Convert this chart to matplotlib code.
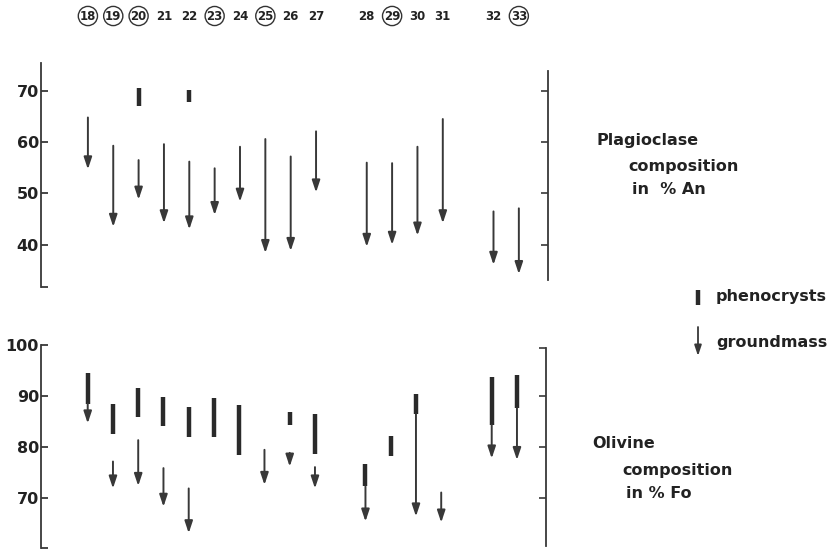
import matplotlib
matplotlib.use("Agg")
import matplotlib.pyplot as plt

# sample numbers, in three groups separated by an empty slot
groups = [[18, 19, 20, 21, 22, 23, 24, 25, 26, 27], [28, 29, 30, 31], [32, 33]]
circled = [18, 19, 20, 23, 25, 29, 33]

# plagioclase (% An)
plag_ph_samples = [20, 22]
plag_ph_top = [70.5, 70.1]
plag_ph_bot = [67.0, 67.8]
plag_gm_samples = [18, 19, 20, 21, 22, 23, 24, 25, 26, 27, 28, 29, 30, 31, 32, 33]
plag_gm_top = [64.8, 59.3, 56.5, 59.6, 56.2, 54.9, 59.1, 60.6, 57.2, 62.1, 56.0, 55.9, 59.1, 64.5, 46.5, 47.1]
plag_gm_bot = [54.7, 43.5, 48.8, 44.2, 43.0, 45.8, 48.4, 38.4, 38.8, 50.2, 39.6, 40.0, 41.8, 44.2, 36.1, 34.3]

# olivine (% Fo)
oliv_ph_samples = [18, 19, 20, 21, 22, 23, 24, 26, 27, 28, 29, 30, 32, 33]
oliv_ph_top = [94.6, 88.5, 91.5, 89.8, 87.9, 89.5, 88.2, 86.9, 86.4, 76.6, 82.1, 90.3, 93.7, 94.2]
oliv_ph_bot = [88.5, 82.6, 85.9, 84.0, 81.9, 82.0, 78.4, 84.3, 78.5, 72.2, 78.1, 86.4, 84.3, 87.6]
oliv_gm_samples = [18, 19, 20, 21, 22, 25, 26, 27, 28, 30, 31, 32, 33]
oliv_gm_top = [88.5, 77.1, 81.3, 75.8, 71.8, 79.4, 78.8, 76.0, 72.2, 86.4, 71.0, 84.3, 87.6]
oliv_gm_bot = [84.6, 71.8, 72.3, 68.2, 63.0, 72.5, 76.1, 71.8, 65.3, 66.3, 65.1, 77.7, 77.4]

ink = "#383838"
plt.rcParams["font.family"] = "DejaVu Sans"
plt.rcParams["font.weight"] = "bold"
head = "-|>,head_length=0.45,head_width=0.15"

# x slot of every sample
xpos = {}
slot = 0
for g in groups:
    for s in g:
        xpos[s] = slot
        slot += 1
    slot += 1

fig = plt.figure(figsize=(8.27, 5.6), dpi=100)
W, H = 827.0, 560.0


def px_axes(left, top, right, bottom):
    return fig.add_axes([left / W, 1 - bottom / H, (right - left) / W, (bottom - top) / H])


def draw(ax, gm_s, gm_t, gm_b, ph_s, ph_t, ph_b):
    for s, t, b in zip(gm_s, gm_t, gm_b):
        ax.annotate("", xy=(xpos[s], b), xytext=(xpos[s], t),
                    arrowprops=dict(arrowstyle=head, color=ink, lw=1.4,
                                    mutation_scale=16, shrinkA=0, shrinkB=0))
    ax.vlines([xpos[s] for s in ph_s], ph_b, ph_t, color="#2a2a2a", lw=3.2,
              capstyle="butt")


def style(ax, ylim, lbounds, rbounds, ticks, extra, rticks):
    ax.set_xlim(-1.85, 18.15)
    ax.set_ylim(*ylim)
    for sp in ["top", "bottom", "right"]:
        ax.spines[sp].set_visible(False)
    ax.spines["left"].set_bounds(*lbounds)
    ax.spines["left"].set_color(ink)
    ax.spines["left"].set_linewidth(1.3)
    ax.set_xticks([])
    ax.set_yticks(ticks + [extra])
    ax.set_yticklabels([str(t) for t in ticks] + [""])
    ax.tick_params(axis="y", direction="in", length=5, width=1.3, color=ink,
                   labelsize=11.5, pad=1.5, labelcolor="#222222")
    ax.patch.set_alpha(0)
    rx = ax.twinx()
    rx.set_ylim(*ylim)
    for sp in ["top", "bottom", "left"]:
        rx.spines[sp].set_visible(False)
    rx.spines["right"].set_bounds(*rbounds)
    rx.spines["right"].set_color(ink)
    rx.spines["right"].set_linewidth(1.3)
    rx.set_yticks(rticks)
    rx.set_yticklabels([])
    rx.tick_params(axis="y", direction="in", length=5, width=1.2, color=ink)
    rx.set_xticks([])


# plagioclase panel
ax1 = px_axes(41, 60, 548, 292)
draw(ax1, plag_gm_samples, plag_gm_top, plag_gm_bot, plag_ph_samples, plag_ph_top, plag_ph_bot)
style(ax1, (30.8, 76.0), (31.7, 75.5), (33.2, 73.9), [40, 50, 60, 70], 31.7, [40, 50, 60, 70])

# olivine panel
ax2 = px_axes(41, 340, 546, 552)
draw(ax2, oliv_gm_samples, oliv_gm_top, oliv_gm_bot, oliv_ph_samples, oliv_ph_top, oliv_ph_bot)
style(ax2, (59.3, 101.0), (60, 100), (60.4, 99.4), [70, 80, 90, 100], 60, [70, 80, 90, 99.4])

# sample numbers across the top
for s in xpos:
    x_fig = ax1.transData.transform((xpos[s], 0))[0] / W
    kw = {}
    if s in circled:
        kw["bbox"] = dict(boxstyle="circle,pad=0.12", fc="none", ec="#333333", lw=1.0)
    fig.text(x_fig, 1 - 16 / H, str(s), ha="center", va="center", fontsize=8.5,
             color="#222222", **kw)

# panel titles
txt = dict(fontsize=11.5, color="#222222", va="center", ha="left")
fig.text(597 / W, 1 - 140 / H, "Plagioclase", **txt)
fig.text(628 / W, 1 - 166 / H, "composition", **txt)
fig.text(632 / W, 1 - 190 / H, "in  % An", **txt)
fig.text(592 / W, 1 - 443 / H, "Olivine", **txt)
fig.text(622 / W, 1 - 470 / H, "composition", **txt)
fig.text(626 / W, 1 - 494 / H, "in % Fo", **txt)

# legend
fig.add_artist(plt.Line2D([698 / W, 698 / W], [1 - 290 / H, 1 - 305 / H], color="#2a2a2a",
                          lw=3.2, solid_capstyle="butt"))
fig.text(716 / W, 1 - 297 / H, "phenocrysts", **txt)
fig.add_artist(matplotlib.patches.FancyArrowPatch(
    (698 / W, 1 - 327 / H), (698 / W, 1 - 356 / H), transform=fig.transFigure,
    arrowstyle=head, color=ink, lw=1.3, mutation_scale=14, shrinkA=0, shrinkB=0))
fig.text(716 / W, 1 - 343 / H, "groundmass", **txt)

fig.savefig("out.png", dpi=100)
